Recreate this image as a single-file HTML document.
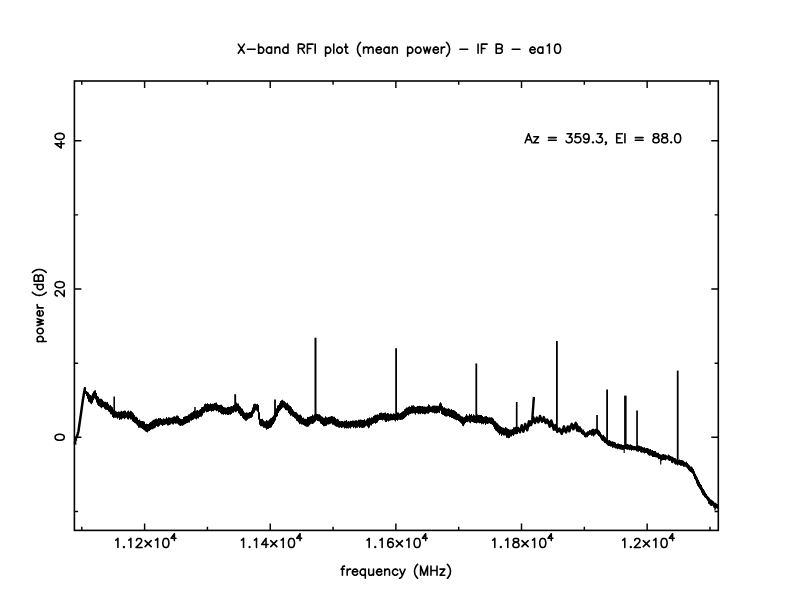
<!DOCTYPE html>
<html><head><meta charset="utf-8"><title>X-band RFI plot</title>
<style>html,body{margin:0;padding:0;background:#fff;font-family:"Liberation Sans",sans-serif;}svg{display:block}</style></head>
<body>
<svg width="792" height="612" viewBox="0 0 792 612">
<rect x="0" y="0" width="792" height="612" fill="#fff"/>
<g fill="none" stroke="#000" stroke-width="1.60" stroke-linecap="square">
<rect x="74.40" y="81.00" width="643.90" height="449.40"/>
</g>
<path d="M81.78 530.40 V526.70 M81.78 81.00 V84.70 M144.60 530.40 V523.40 M144.60 81.00 V88.00 M207.42 530.40 V526.70 M207.42 81.00 V84.70 M270.24 530.40 V523.40 M270.24 81.00 V88.00 M333.06 530.40 V526.70 M333.06 81.00 V84.70 M395.87 530.40 V523.40 M395.87 81.00 V88.00 M458.69 530.40 V526.70 M458.69 81.00 V84.70 M521.51 530.40 V523.40 M521.51 81.00 V88.00 M584.33 530.40 V526.70 M584.33 81.00 V84.70 M647.15 530.40 V523.40 M647.15 81.00 V88.00 M709.97 530.40 V526.70 M709.97 81.00 V84.70 M74.40 511.45 H78.10 M718.30 511.45 H714.60 M74.40 437.30 H81.40 M718.30 437.30 H711.30 M74.40 363.15 H78.10 M718.30 363.15 H714.60 M74.40 289.00 H81.40 M718.30 289.00 H711.30 M74.40 214.85 H78.10 M718.30 214.85 H714.60 M74.40 140.70 H81.40 M718.30 140.70 H711.30" fill="none" stroke="#000" stroke-width="1.45" stroke-linecap="butt"/>
<path d="M238.30 44.13 L244.34 53.20 M244.34 44.13 L238.30 53.20 M247.37 49.31 L255.14 49.31 M258.60 44.13 L258.60 53.20 M258.60 48.45 L259.46 47.58 L260.33 47.15 L261.62 47.15 L262.49 47.58 L263.35 48.45 L263.78 49.74 L263.78 50.61 L263.35 51.90 L262.49 52.77 L261.62 53.20 L260.33 53.20 L259.46 52.77 L258.60 51.90 M271.56 47.15 L271.56 53.20 M271.56 48.45 L270.70 47.58 L269.83 47.15 L268.54 47.15 L267.67 47.58 L266.81 48.45 L266.38 49.74 L266.38 50.61 L266.81 51.90 L267.67 52.77 L268.54 53.20 L269.83 53.20 L270.70 52.77 L271.56 51.90 M275.02 47.15 L275.02 53.20 M275.02 48.88 L276.31 47.58 L277.18 47.15 L278.47 47.15 L279.34 47.58 L279.77 48.88 L279.77 53.20 M287.98 44.13 L287.98 53.20 M287.98 48.45 L287.11 47.58 L286.25 47.15 L284.95 47.15 L284.09 47.58 L283.22 48.45 L282.79 49.74 L282.79 50.61 L283.22 51.90 L284.09 52.77 L284.95 53.20 L286.25 53.20 L287.11 52.77 L287.98 51.90 M298.34 44.13 L298.34 53.20 M298.34 44.13 L302.23 44.13 L303.53 44.56 L303.96 44.99 L304.39 45.86 L304.39 46.72 L303.96 47.58 L303.53 48.02 L302.23 48.45 L298.34 48.45 M301.37 48.45 L304.39 53.20 M307.42 44.13 L307.42 53.20 M307.42 44.13 L313.03 44.13 M307.42 48.45 L310.87 48.45 M315.19 44.13 L315.19 53.20 M325.56 47.15 L325.56 56.22 M325.56 48.45 L326.42 47.58 L327.29 47.15 L328.58 47.15 L329.45 47.58 L330.31 48.45 L330.74 49.74 L330.74 50.61 L330.31 51.90 L329.45 52.77 L328.58 53.20 L327.29 53.20 L326.42 52.77 L325.56 51.90 M333.77 44.13 L333.77 53.20 M338.95 47.15 L338.09 47.58 L337.22 48.45 L336.79 49.74 L336.79 50.61 L337.22 51.90 L338.09 52.77 L338.95 53.20 L340.25 53.20 L341.11 52.77 L341.98 51.90 L342.41 50.61 L342.41 49.74 L341.98 48.45 L341.11 47.58 L340.25 47.15 L338.95 47.15 M345.86 44.13 L345.86 51.47 L346.30 52.77 L347.16 53.20 L348.02 53.20 M344.57 47.15 L347.59 47.15 M360.55 42.40 L359.69 43.26 L358.82 44.56 L357.96 46.29 L357.53 48.45 L357.53 50.18 L357.96 52.34 L358.82 54.06 L359.69 55.36 L360.55 56.22 M363.58 47.15 L363.58 53.20 M363.58 48.88 L364.87 47.58 L365.74 47.15 L367.03 47.15 L367.90 47.58 L368.33 48.88 L368.33 53.20 M368.33 48.88 L369.62 47.58 L370.49 47.15 L371.78 47.15 L372.65 47.58 L373.08 48.88 L373.08 53.20 M376.10 49.74 L381.29 49.74 L381.29 48.88 L380.86 48.02 L380.42 47.58 L379.56 47.15 L378.26 47.15 L377.40 47.58 L376.54 48.45 L376.10 49.74 L376.10 50.61 L376.54 51.90 L377.40 52.77 L378.26 53.20 L379.56 53.20 L380.42 52.77 L381.29 51.90 M389.06 47.15 L389.06 53.20 M389.06 48.45 L388.20 47.58 L387.34 47.15 L386.04 47.15 L385.18 47.58 L384.31 48.45 L383.88 49.74 L383.88 50.61 L384.31 51.90 L385.18 52.77 L386.04 53.20 L387.34 53.20 L388.20 52.77 L389.06 51.90 M392.52 47.15 L392.52 53.20 M392.52 48.88 L393.82 47.58 L394.68 47.15 L395.98 47.15 L396.84 47.58 L397.27 48.88 L397.27 53.20 M407.64 47.15 L407.64 56.22 M407.64 48.45 L408.50 47.58 L409.37 47.15 L410.66 47.15 L411.53 47.58 L412.39 48.45 L412.82 49.74 L412.82 50.61 L412.39 51.90 L411.53 52.77 L410.66 53.20 L409.37 53.20 L408.50 52.77 L407.64 51.90 M417.58 47.15 L416.71 47.58 L415.85 48.45 L415.42 49.74 L415.42 50.61 L415.85 51.90 L416.71 52.77 L417.58 53.20 L418.87 53.20 L419.74 52.77 L420.60 51.90 L421.03 50.61 L421.03 49.74 L420.60 48.45 L419.74 47.58 L418.87 47.15 L417.58 47.15 M423.62 47.15 L425.35 53.20 M427.08 47.15 L425.35 53.20 M427.08 47.15 L428.81 53.20 M430.54 47.15 L428.81 53.20 M433.13 49.74 L438.31 49.74 L438.31 48.88 L437.88 48.02 L437.45 47.58 L436.58 47.15 L435.29 47.15 L434.42 47.58 L433.56 48.45 L433.13 49.74 L433.13 50.61 L433.56 51.90 L434.42 52.77 L435.29 53.20 L436.58 53.20 L437.45 52.77 L438.31 51.90 M441.34 47.15 L441.34 53.20 M441.34 49.74 L441.77 48.45 L442.63 47.58 L443.50 47.15 L444.79 47.15 M446.52 42.40 L447.38 43.26 L448.25 44.56 L449.11 46.29 L449.54 48.45 L449.54 50.18 L449.11 52.34 L448.25 54.06 L447.38 55.36 L446.52 56.22 M459.91 49.31 L467.69 49.31 M478.06 44.13 L478.06 53.20 M481.51 44.13 L481.51 53.20 M481.51 44.13 L487.13 44.13 M481.51 48.45 L484.97 48.45 M496.20 44.13 L496.20 53.20 M496.20 44.13 L500.09 44.13 L501.38 44.56 L501.82 44.99 L502.25 45.86 L502.25 46.72 L501.82 47.58 L501.38 48.02 L500.09 48.45 M496.20 48.45 L500.09 48.45 L501.38 48.88 L501.82 49.31 L502.25 50.18 L502.25 51.47 L501.82 52.34 L501.38 52.77 L500.09 53.20 L496.20 53.20 M512.18 49.31 L519.96 49.31 M529.90 49.74 L535.08 49.74 L535.08 48.88 L534.65 48.02 L534.22 47.58 L533.35 47.15 L532.06 47.15 L531.19 47.58 L530.33 48.45 L529.90 49.74 L529.90 50.61 L530.33 51.90 L531.19 52.77 L532.06 53.20 L533.35 53.20 L534.22 52.77 L535.08 51.90 M542.86 47.15 L542.86 53.20 M542.86 48.45 L541.99 47.58 L541.13 47.15 L539.83 47.15 L538.97 47.58 L538.10 48.45 L537.67 49.74 L537.67 50.61 L538.10 51.90 L538.97 52.77 L539.83 53.20 L541.13 53.20 L541.99 52.77 L542.86 51.90 M547.18 45.86 L548.04 45.42 L549.34 44.13 L549.34 53.20 M557.11 44.13 L555.82 44.56 L554.95 45.86 L554.52 48.02 L554.52 49.31 L554.95 51.47 L555.82 52.77 L557.11 53.20 L557.98 53.20 L559.27 52.77 L560.14 51.47 L560.57 49.31 L560.57 48.02 L560.14 45.86 L559.27 44.56 L557.98 44.13 L557.11 44.13 M528.59 133.73 L525.13 142.80 M528.59 133.73 L532.04 142.80 M526.43 139.78 L530.75 139.78 M538.52 136.75 L533.77 142.80 M533.77 136.75 L538.52 136.75 M533.77 142.80 L538.52 142.80 M548.46 137.62 L556.24 137.62 M548.46 140.21 L556.24 140.21 M567.04 133.73 L571.79 133.73 L569.20 137.18 L570.49 137.18 L571.36 137.62 L571.79 138.05 L572.22 139.34 L572.22 140.21 L571.79 141.50 L570.92 142.37 L569.63 142.80 L568.33 142.80 L567.04 142.37 L566.60 141.94 L566.17 141.07 M580.00 133.73 L575.68 133.73 L575.24 137.62 L575.68 137.18 L576.97 136.75 L578.27 136.75 L579.56 137.18 L580.43 138.05 L580.86 139.34 L580.86 140.21 L580.43 141.50 L579.56 142.37 L578.27 142.80 L576.97 142.80 L575.68 142.37 L575.24 141.94 L574.81 141.07 M589.07 136.75 L588.64 138.05 L587.77 138.91 L586.48 139.34 L586.04 139.34 L584.75 138.91 L583.88 138.05 L583.45 136.75 L583.45 136.32 L583.88 135.02 L584.75 134.16 L586.04 133.73 L586.48 133.73 L587.77 134.16 L588.64 135.02 L589.07 136.75 L589.07 138.91 L588.64 141.07 L587.77 142.37 L586.48 142.80 L585.61 142.80 L584.32 142.37 L583.88 141.50 M592.96 141.94 L592.52 142.37 L592.96 142.80 L593.39 142.37 L592.96 141.94 M597.28 133.73 L602.03 133.73 L599.44 137.18 L600.73 137.18 L601.60 137.62 L602.03 138.05 L602.46 139.34 L602.46 140.21 L602.03 141.50 L601.16 142.37 L599.87 142.80 L598.57 142.80 L597.28 142.37 L596.84 141.94 L596.41 141.07 M606.35 142.37 L605.92 142.80 L605.48 142.37 L605.92 141.94 L606.35 142.37 L606.35 143.23 L605.92 144.10 L605.48 144.53 M616.72 133.73 L616.72 142.80 M616.72 133.73 L622.33 133.73 M616.72 138.05 L620.17 138.05 M616.72 142.80 L622.33 142.80 M624.92 133.73 L624.92 142.80 M635.29 137.62 L643.07 137.62 M635.29 140.21 L643.07 140.21 M655.16 133.73 L653.87 134.16 L653.44 135.02 L653.44 135.89 L653.87 136.75 L654.73 137.18 L656.46 137.62 L657.76 138.05 L658.62 138.91 L659.05 139.78 L659.05 141.07 L658.62 141.94 L658.19 142.37 L656.89 142.80 L655.16 142.80 L653.87 142.37 L653.44 141.94 L653.00 141.07 L653.00 139.78 L653.44 138.91 L654.30 138.05 L655.60 137.62 L657.32 137.18 L658.19 136.75 L658.62 135.89 L658.62 135.02 L658.19 134.16 L656.89 133.73 L655.16 133.73 M663.80 133.73 L662.51 134.16 L662.08 135.02 L662.08 135.89 L662.51 136.75 L663.37 137.18 L665.10 137.62 L666.40 138.05 L667.26 138.91 L667.69 139.78 L667.69 141.07 L667.26 141.94 L666.83 142.37 L665.53 142.80 L663.80 142.80 L662.51 142.37 L662.08 141.94 L661.64 141.07 L661.64 139.78 L662.08 138.91 L662.94 138.05 L664.24 137.62 L665.96 137.18 L666.83 136.75 L667.26 135.89 L667.26 135.02 L666.83 134.16 L665.53 133.73 L663.80 133.73 M671.15 141.94 L670.72 142.37 L671.15 142.80 L671.58 142.37 L671.15 141.94 M677.20 133.73 L675.90 134.16 L675.04 135.46 L674.60 137.62 L674.60 138.91 L675.04 141.07 L675.90 142.37 L677.20 142.80 L678.06 142.80 L679.36 142.37 L680.22 141.07 L680.65 138.91 L680.65 137.62 L680.22 135.46 L679.36 134.16 L678.06 133.73 L677.20 133.73 M344.58 566.13 L343.71 566.13 L342.85 566.56 L342.42 567.86 L342.42 575.20 M341.12 569.15 L344.14 569.15 M347.17 569.15 L347.17 575.20 M347.17 571.74 L347.60 570.45 L348.46 569.58 L349.33 569.15 L350.62 569.15 M352.35 571.74 L357.54 571.74 L357.54 570.88 L357.10 570.02 L356.67 569.58 L355.81 569.15 L354.51 569.15 L353.65 569.58 L352.78 570.45 L352.35 571.74 L352.35 572.61 L352.78 573.90 L353.65 574.77 L354.51 575.20 L355.81 575.20 L356.67 574.77 L357.54 573.90 M365.31 569.15 L365.31 578.22 M365.31 570.45 L364.45 569.58 L363.58 569.15 L362.29 569.15 L361.42 569.58 L360.56 570.45 L360.13 571.74 L360.13 572.61 L360.56 573.90 L361.42 574.77 L362.29 575.20 L363.58 575.20 L364.45 574.77 L365.31 573.90 M368.77 569.15 L368.77 573.47 L369.20 574.77 L370.06 575.20 L371.36 575.20 L372.22 574.77 L373.52 573.47 M373.52 569.15 L373.52 575.20 M376.54 571.74 L381.73 571.74 L381.73 570.88 L381.30 570.02 L380.86 569.58 L380.00 569.15 L378.70 569.15 L377.84 569.58 L376.98 570.45 L376.54 571.74 L376.54 572.61 L376.98 573.90 L377.84 574.77 L378.70 575.20 L380.00 575.20 L380.86 574.77 L381.73 573.90 M384.75 569.15 L384.75 575.20 M384.75 570.88 L386.05 569.58 L386.91 569.15 L388.21 569.15 L389.07 569.58 L389.50 570.88 L389.50 575.20 M397.71 570.45 L396.85 569.58 L395.98 569.15 L394.69 569.15 L393.82 569.58 L392.96 570.45 L392.53 571.74 L392.53 572.61 L392.96 573.90 L393.82 574.77 L394.69 575.20 L395.98 575.20 L396.85 574.77 L397.71 573.90 M399.87 569.15 L402.46 575.20 M405.06 569.15 L402.46 575.20 L401.60 576.93 L400.74 577.79 L399.87 578.22 L399.44 578.22 M417.58 564.40 L416.72 565.26 L415.86 566.56 L414.99 568.29 L414.56 570.45 L414.56 572.18 L414.99 574.34 L415.86 576.06 L416.72 577.36 L417.58 578.22 M420.61 566.13 L420.61 575.20 M420.61 566.13 L424.06 575.20 M427.52 566.13 L424.06 575.20 M427.52 566.13 L427.52 575.20 M430.98 566.13 L430.98 575.20 M437.02 566.13 L437.02 575.20 M430.98 570.45 L437.02 570.45 M444.80 569.15 L440.05 575.20 M440.05 569.15 L444.80 569.15 M440.05 575.20 L444.80 575.20 M447.39 564.40 L448.26 565.26 L449.12 566.56 L449.98 568.29 L450.42 570.45 L450.42 572.18 L449.98 574.34 L449.12 576.06 L448.26 577.36 L447.39 578.22 M37.15 341.57 L46.22 341.57 M38.45 341.57 L37.58 340.71 L37.15 339.84 L37.15 338.55 L37.58 337.68 L38.45 336.82 L39.74 336.39 L40.61 336.39 L41.90 336.82 L42.77 337.68 L43.20 338.55 L43.20 339.84 L42.77 340.71 L41.90 341.57 M37.15 331.64 L37.58 332.50 L38.45 333.36 L39.74 333.80 L40.61 333.80 L41.90 333.36 L42.77 332.50 L43.20 331.64 L43.20 330.34 L42.77 329.48 L41.90 328.61 L40.61 328.18 L39.74 328.18 L38.45 328.61 L37.58 329.48 L37.15 330.34 L37.15 331.64 M37.15 325.59 L43.20 323.86 M37.15 322.13 L43.20 323.86 M37.15 322.13 L43.20 320.40 M37.15 318.68 L43.20 320.40 M39.74 316.08 L39.74 310.90 L38.88 310.90 L38.02 311.33 L37.58 311.76 L37.15 312.63 L37.15 313.92 L37.58 314.79 L38.45 315.65 L39.74 316.08 L40.61 316.08 L41.90 315.65 L42.77 314.79 L43.20 313.92 L43.20 312.63 L42.77 311.76 L41.90 310.90 M37.15 307.88 L43.20 307.88 M39.74 307.88 L38.45 307.44 L37.58 306.58 L37.15 305.72 L37.15 304.42 M32.40 292.32 L33.26 293.19 L34.56 294.05 L36.29 294.92 L38.45 295.35 L40.18 295.35 L42.34 294.92 L44.06 294.05 L45.36 293.19 L46.22 292.32 M34.13 284.55 L43.20 284.55 M38.45 284.55 L37.58 285.41 L37.15 286.28 L37.15 287.57 L37.58 288.44 L38.45 289.30 L39.74 289.73 L40.61 289.73 L41.90 289.30 L42.77 288.44 L43.20 287.57 L43.20 286.28 L42.77 285.41 L41.90 284.55 M34.13 281.09 L43.20 281.09 M34.13 281.09 L34.13 277.20 L34.56 275.91 L34.99 275.48 L35.86 275.04 L36.72 275.04 L37.58 275.48 L38.02 275.91 L38.45 277.20 M38.45 281.09 L38.45 277.20 L38.88 275.91 L39.31 275.48 L40.18 275.04 L41.47 275.04 L42.34 275.48 L42.77 275.91 L43.20 277.20 L43.20 281.09 M32.40 272.45 L33.26 271.59 L34.56 270.72 L36.29 269.86 L38.45 269.43 L40.18 269.43 L42.34 269.86 L44.06 270.72 L45.36 271.59 L46.22 272.45 M115.74 540.16 L116.60 539.72 L117.90 538.43 L117.90 547.50 M123.95 546.64 L123.52 547.07 L123.95 547.50 L124.38 547.07 L123.95 546.64 M128.70 540.16 L129.56 539.72 L130.86 538.43 L130.86 547.50 M136.48 540.59 L136.48 540.16 L136.91 539.29 L137.34 538.86 L138.20 538.43 L139.93 538.43 L140.80 538.86 L141.23 539.29 L141.66 540.16 L141.66 541.02 L141.23 541.88 L140.36 543.18 L136.04 547.50 L142.09 547.50 M145.12 540.59 L151.16 546.64 M151.16 540.59 L145.12 546.64 M155.48 540.16 L156.35 539.72 L157.64 538.43 L157.64 547.50 M165.42 538.43 L164.12 538.86 L163.26 540.16 L162.83 542.32 L162.83 543.61 L163.26 545.77 L164.12 547.07 L165.42 547.50 L166.28 547.50 L167.58 547.07 L168.44 545.77 L168.88 543.61 L168.88 542.32 L168.44 540.16 L167.58 538.86 L166.28 538.43 L165.42 538.43 M174.38 533.78 L171.14 538.32 L176.00 538.32 M174.38 533.78 L174.38 540.59 M241.38 540.16 L242.24 539.72 L243.54 538.43 L243.54 547.50 M249.59 546.64 L249.15 547.07 L249.59 547.50 L250.02 547.07 L249.59 546.64 M254.34 540.16 L255.20 539.72 L256.50 538.43 L256.50 547.50 M266.00 538.43 L261.68 544.48 L268.16 544.48 M266.00 538.43 L266.00 547.50 M270.75 540.59 L276.80 546.64 M276.80 540.59 L270.75 546.64 M281.12 540.16 L281.99 539.72 L283.28 538.43 L283.28 547.50 M291.06 538.43 L289.76 538.86 L288.90 540.16 L288.47 542.32 L288.47 543.61 L288.90 545.77 L289.76 547.07 L291.06 547.50 L291.92 547.50 L293.22 547.07 L294.08 545.77 L294.51 543.61 L294.51 542.32 L294.08 540.16 L293.22 538.86 L291.92 538.43 L291.06 538.43 M300.02 533.78 L296.78 538.32 L301.64 538.32 M300.02 533.78 L300.02 540.59 M367.01 540.16 L367.88 539.72 L369.17 538.43 L369.17 547.50 M375.22 546.64 L374.79 547.07 L375.22 547.50 L375.65 547.07 L375.22 546.64 M379.97 540.16 L380.84 539.72 L382.13 538.43 L382.13 547.50 M392.93 539.72 L392.50 538.86 L391.21 538.43 L390.34 538.43 L389.05 538.86 L388.18 540.16 L387.75 542.32 L387.75 544.48 L388.18 546.20 L389.05 547.07 L390.34 547.50 L390.77 547.50 L392.07 547.07 L392.93 546.20 L393.37 544.91 L393.37 544.48 L392.93 543.18 L392.07 542.32 L390.77 541.88 L390.34 541.88 L389.05 542.32 L388.18 543.18 L387.75 544.48 M396.39 540.59 L402.44 546.64 M402.44 540.59 L396.39 546.64 M406.76 540.16 L407.62 539.72 L408.92 538.43 L408.92 547.50 M416.69 538.43 L415.40 538.86 L414.53 540.16 L414.10 542.32 L414.10 543.61 L414.53 545.77 L415.40 547.07 L416.69 547.50 L417.56 547.50 L418.85 547.07 L419.72 545.77 L420.15 543.61 L420.15 542.32 L419.72 540.16 L418.85 538.86 L417.56 538.43 L416.69 538.43 M425.66 533.78 L422.42 538.32 L427.28 538.32 M425.66 533.78 L425.66 540.59 M492.65 540.16 L493.52 539.72 L494.81 538.43 L494.81 547.50 M500.86 546.64 L500.43 547.07 L500.86 547.50 L501.29 547.07 L500.86 546.64 M505.61 540.16 L506.48 539.72 L507.77 538.43 L507.77 547.50 M515.12 538.43 L513.82 538.86 L513.39 539.72 L513.39 540.59 L513.82 541.45 L514.68 541.88 L516.41 542.32 L517.71 542.75 L518.57 543.61 L519.00 544.48 L519.00 545.77 L518.57 546.64 L518.14 547.07 L516.84 547.50 L515.12 547.50 L513.82 547.07 L513.39 546.64 L512.96 545.77 L512.96 544.48 L513.39 543.61 L514.25 542.75 L515.55 542.32 L517.28 541.88 L518.14 541.45 L518.57 540.59 L518.57 539.72 L518.14 538.86 L516.84 538.43 L515.12 538.43 M522.03 540.59 L528.08 546.64 M528.08 540.59 L522.03 546.64 M532.40 540.16 L533.26 539.72 L534.56 538.43 L534.56 547.50 M542.33 538.43 L541.04 538.86 L540.17 540.16 L539.74 542.32 L539.74 543.61 L540.17 545.77 L541.04 547.07 L542.33 547.50 L543.20 547.50 L544.49 547.07 L545.36 545.77 L545.79 543.61 L545.79 542.32 L545.36 540.16 L544.49 538.86 L543.20 538.43 L542.33 538.43 M551.30 533.78 L548.06 538.32 L552.92 538.32 M551.30 533.78 L551.30 540.59 M622.61 540.16 L623.47 539.72 L624.77 538.43 L624.77 547.50 M630.82 546.64 L630.39 547.07 L630.82 547.50 L631.25 547.07 L630.82 546.64 M634.71 540.59 L634.71 540.16 L635.14 539.29 L635.57 538.86 L636.43 538.43 L638.16 538.43 L639.03 538.86 L639.46 539.29 L639.89 540.16 L639.89 541.02 L639.46 541.88 L638.59 543.18 L634.27 547.50 L640.32 547.50 M643.35 540.59 L649.39 546.64 M649.39 540.59 L643.35 546.64 M653.71 540.16 L654.58 539.72 L655.87 538.43 L655.87 547.50 M663.65 538.43 L662.35 538.86 L661.49 540.16 L661.06 542.32 L661.06 543.61 L661.49 545.77 L662.35 547.07 L663.65 547.50 L664.51 547.50 L665.81 547.07 L666.67 545.77 L667.11 543.61 L667.11 542.32 L666.67 540.16 L665.81 538.86 L664.51 538.43 L663.65 538.43 M672.61 533.78 L669.37 538.32 L674.23 538.32 M672.61 533.78 L672.61 540.59 M55.13 143.72 L61.18 148.04 L61.18 141.56 M55.13 143.72 L64.20 143.72 M55.13 136.81 L55.56 138.11 L56.86 138.97 L59.02 139.40 L60.31 139.40 L62.47 138.97 L63.77 138.11 L64.20 136.81 L64.20 135.95 L63.77 134.65 L62.47 133.79 L60.31 133.36 L59.02 133.36 L56.86 133.79 L55.56 134.65 L55.13 135.95 L55.13 136.81 M57.29 295.91 L56.86 295.91 L55.99 295.48 L55.56 295.05 L55.13 294.18 L55.13 292.46 L55.56 291.59 L55.99 291.16 L56.86 290.73 L57.72 290.73 L58.58 291.16 L59.88 292.02 L64.20 296.34 L64.20 290.30 M55.13 285.11 L55.56 286.41 L56.86 287.27 L59.02 287.70 L60.31 287.70 L62.47 287.27 L63.77 286.41 L64.20 285.11 L64.20 284.25 L63.77 282.95 L62.47 282.09 L60.31 281.66 L59.02 281.66 L56.86 282.09 L55.56 282.95 L55.13 284.25 L55.13 285.11 M55.13 437.73 L55.56 439.03 L56.86 439.89 L59.02 440.32 L60.31 440.32 L62.47 439.89 L63.77 439.03 L64.20 437.73 L64.20 436.87 L63.77 435.57 L62.47 434.71 L60.31 434.28 L59.02 434.28 L56.86 434.71 L55.56 435.57 L55.13 436.87 L55.13 437.73" fill="none" stroke="#000" stroke-width="1.58" stroke-linecap="round" stroke-linejoin="round"/>
<path fill="#000" stroke="none" d="M84.00 387.64 H85.00 V395.65 H84.00 Z M85.00 387.79 H86.00 V394.05 H85.00 Z M86.00 391.03 H87.00 V395.98 H86.00 Z M87.00 391.66 H88.00 V398.74 H87.00 Z M88.00 392.48 H89.00 V401.66 H88.00 Z M89.00 394.35 H90.00 V402.20 H89.00 Z M90.00 395.10 H91.00 V403.54 H90.00 Z M91.00 395.43 H92.00 V404.32 H91.00 Z M92.00 393.19 H93.00 V402.67 H92.00 Z M93.00 391.41 H94.00 V400.29 H93.00 Z M94.00 390.50 H95.00 V398.56 H94.00 Z M95.00 390.35 H96.00 V399.57 H95.00 Z M96.00 392.90 H97.00 V402.49 H96.00 Z M97.00 395.88 H98.00 V404.77 H97.00 Z M98.00 396.86 H99.00 V406.03 H98.00 Z M99.00 398.87 H100.00 V406.54 H99.00 Z M100.00 398.65 H101.00 V407.36 H100.00 Z M101.00 398.87 H102.00 V408.19 H101.00 Z M102.00 399.81 H103.00 V407.27 H102.00 Z M103.00 401.29 H104.00 V407.31 H103.00 Z M104.00 401.76 H105.00 V408.86 H104.00 Z M105.00 401.63 H106.00 V409.74 H105.00 Z M106.00 402.32 H107.00 V409.79 H106.00 Z M107.00 401.94 H108.00 V410.07 H107.00 Z M108.00 403.82 H109.00 V411.40 H108.00 Z M109.00 405.45 H110.00 V412.35 H109.00 Z M110.00 404.94 H111.00 V414.18 H110.00 Z M111.00 406.35 H112.00 V414.57 H111.00 Z M112.00 407.37 H113.00 V416.94 H112.00 Z M113.00 409.58 H114.00 V418.19 H113.00 Z M114.00 411.02 H115.00 V417.80 H114.00 Z M115.00 410.63 H116.00 V417.81 H115.00 Z M116.00 411.54 H117.00 V417.70 H116.00 Z M117.00 411.94 H118.00 V418.79 H117.00 Z M118.00 411.51 H119.00 V417.87 H118.00 Z M119.00 411.85 H120.00 V420.05 H119.00 Z M120.00 411.57 H121.00 V419.27 H120.00 Z M121.00 410.78 H122.00 V419.56 H121.00 Z M122.00 411.61 H123.00 V418.40 H122.00 Z M123.00 411.10 H124.00 V418.32 H123.00 Z M124.00 410.58 H125.00 V419.19 H124.00 Z M125.00 410.83 H126.00 V418.34 H125.00 Z M126.00 412.14 H127.00 V417.73 H126.00 Z M127.00 411.35 H128.00 V419.15 H127.00 Z M128.00 410.58 H129.00 V419.56 H128.00 Z M129.00 411.67 H130.00 V418.34 H129.00 Z M130.00 410.81 H131.00 V419.49 H130.00 Z M131.00 411.16 H132.00 V419.45 H131.00 Z M132.00 412.21 H133.00 V421.34 H132.00 Z M133.00 413.26 H134.00 V421.92 H133.00 Z M134.00 415.00 H135.00 V422.95 H134.00 Z M135.00 416.65 H136.00 V423.51 H135.00 Z M136.00 416.77 H137.00 V424.45 H136.00 Z M137.00 417.80 H138.00 V425.83 H137.00 Z M138.00 419.97 H139.00 V427.69 H138.00 Z M139.00 419.38 H140.00 V427.68 H139.00 Z M140.00 420.84 H141.00 V427.77 H140.00 Z M141.00 421.03 H142.00 V428.22 H141.00 Z M142.00 420.93 H143.00 V428.93 H142.00 Z M143.00 421.32 H144.00 V429.66 H143.00 Z M144.00 421.81 H145.00 V430.47 H144.00 Z M145.00 423.97 H146.00 V431.60 H145.00 Z M146.00 423.77 H147.00 V431.93 H146.00 Z M147.00 424.09 H148.00 V432.39 H147.00 Z M148.00 423.94 H149.00 V431.14 H148.00 Z M149.00 422.85 H150.00 V431.04 H149.00 Z M150.00 421.94 H151.00 V430.07 H150.00 Z M151.00 421.45 H152.00 V429.33 H151.00 Z M152.00 420.38 H153.00 V429.22 H152.00 Z M153.00 419.81 H154.00 V428.80 H153.00 Z M154.00 419.48 H155.00 V428.17 H154.00 Z M155.00 418.74 H156.00 V427.52 H155.00 Z M156.00 418.60 H157.00 V426.00 H156.00 Z M157.00 419.20 H158.00 V426.82 H157.00 Z M158.00 417.89 H159.00 V426.73 H158.00 Z M159.00 418.20 H160.00 V425.70 H159.00 Z M160.00 417.91 H161.00 V424.70 H160.00 Z M161.00 419.01 H162.00 V424.93 H161.00 Z M162.00 419.21 H163.00 V426.09 H162.00 Z M163.00 418.20 H164.00 V425.13 H163.00 Z M164.00 418.75 H165.00 V425.07 H164.00 Z M165.00 418.64 H166.00 V424.52 H165.00 Z M166.00 416.91 H167.00 V424.20 H166.00 Z M167.00 418.16 H168.00 V425.54 H167.00 Z M168.00 417.35 H169.00 V425.60 H168.00 Z M169.00 417.52 H170.00 V424.93 H169.00 Z M170.00 417.78 H171.00 V424.53 H170.00 Z M171.00 417.65 H172.00 V423.42 H171.00 Z M172.00 417.20 H173.00 V424.17 H172.00 Z M173.00 416.59 H174.00 V424.43 H173.00 Z M174.00 416.14 H175.00 V423.17 H174.00 Z M175.00 416.63 H176.00 V423.73 H175.00 Z M176.00 415.57 H177.00 V423.47 H176.00 Z M177.00 415.46 H178.00 V423.69 H177.00 Z M178.00 416.36 H179.00 V424.65 H178.00 Z M179.00 417.94 H180.00 V425.40 H179.00 Z M180.00 418.72 H181.00 V426.12 H180.00 Z M181.00 418.94 H182.00 V425.62 H181.00 Z M182.00 418.93 H183.00 V425.69 H182.00 Z M183.00 416.94 H184.00 V425.27 H183.00 Z M184.00 416.42 H185.00 V424.38 H184.00 Z M185.00 416.15 H186.00 V423.97 H185.00 Z M186.00 415.99 H187.00 V423.21 H186.00 Z M187.00 415.63 H188.00 V422.88 H187.00 Z M188.00 414.39 H189.00 V422.58 H188.00 Z M189.00 414.22 H190.00 V422.57 H189.00 Z M190.00 413.22 H191.00 V420.54 H190.00 Z M191.00 412.55 H192.00 V420.74 H191.00 Z M192.00 412.14 H193.00 V420.01 H192.00 Z M193.00 411.10 H194.00 V419.54 H193.00 Z M194.00 410.18 H195.00 V418.39 H194.00 Z M195.00 411.30 H196.00 V418.71 H195.00 Z M196.00 410.56 H197.00 V419.42 H196.00 Z M197.00 409.95 H198.00 V418.19 H197.00 Z M198.00 410.79 H199.00 V418.61 H198.00 Z M199.00 409.71 H200.00 V417.08 H199.00 Z M200.00 408.96 H201.00 V416.76 H200.00 Z M201.00 407.35 H202.00 V416.71 H201.00 Z M202.00 406.93 H203.00 V415.53 H202.00 Z M203.00 406.39 H204.00 V413.15 H203.00 Z M204.00 404.21 H205.00 V412.68 H204.00 Z M205.00 403.60 H206.00 V411.34 H205.00 Z M206.00 404.09 H207.00 V412.18 H206.00 Z M207.00 403.15 H208.00 V411.93 H207.00 Z M208.00 403.94 H209.00 V411.81 H208.00 Z M209.00 404.29 H210.00 V411.04 H209.00 Z M210.00 403.21 H211.00 V410.78 H210.00 Z M211.00 403.92 H212.00 V411.74 H211.00 Z M212.00 403.68 H213.00 V410.89 H212.00 Z M213.00 403.86 H214.00 V411.33 H213.00 Z M214.00 403.05 H215.00 V410.19 H214.00 Z M215.00 402.70 H216.00 V410.34 H215.00 Z M216.00 402.61 H217.00 V411.23 H216.00 Z M217.00 404.18 H218.00 V410.82 H217.00 Z M218.00 404.90 H219.00 V412.52 H218.00 Z M219.00 404.99 H220.00 V411.99 H219.00 Z M220.00 404.63 H221.00 V413.19 H220.00 Z M221.00 404.69 H222.00 V414.25 H221.00 Z M222.00 405.82 H223.00 V414.24 H222.00 Z M223.00 407.09 H224.00 V414.78 H223.00 Z M224.00 407.19 H225.00 V414.07 H224.00 Z M225.00 407.60 H226.00 V414.73 H225.00 Z M226.00 407.73 H227.00 V414.30 H226.00 Z M227.00 407.11 H228.00 V414.99 H227.00 Z M228.00 406.69 H229.00 V415.10 H228.00 Z M229.00 407.02 H230.00 V414.52 H229.00 Z M230.00 406.41 H231.00 V414.84 H230.00 Z M231.00 406.09 H232.00 V413.89 H231.00 Z M232.00 406.20 H233.00 V412.76 H232.00 Z M233.00 405.05 H234.00 V412.63 H233.00 Z M234.00 404.71 H235.00 V411.52 H234.00 Z M235.00 403.01 H236.00 V412.20 H235.00 Z M236.00 402.52 H237.00 V411.71 H236.00 Z M237.00 403.57 H238.00 V410.99 H237.00 Z M238.00 403.39 H239.00 V413.33 H238.00 Z M239.00 405.86 H240.00 V414.35 H239.00 Z M240.00 406.71 H241.00 V415.98 H240.00 Z M241.00 408.37 H242.00 V416.05 H241.00 Z M242.00 408.87 H243.00 V417.79 H242.00 Z M243.00 410.85 H244.00 V419.00 H243.00 Z M244.00 412.46 H245.00 V419.87 H244.00 Z M245.00 412.80 H246.00 V420.73 H245.00 Z M246.00 412.23 H247.00 V420.79 H246.00 Z M247.00 412.84 H248.00 V419.74 H247.00 Z M248.00 412.63 H249.00 V418.77 H248.00 Z M249.00 412.10 H250.00 V418.62 H249.00 Z M250.00 412.01 H251.00 V417.91 H250.00 Z M251.00 410.38 H252.00 V417.72 H251.00 Z M252.00 407.38 H253.00 V416.86 H252.00 Z M253.00 404.13 H254.00 V413.83 H253.00 Z M254.00 403.68 H255.00 V412.39 H254.00 Z M255.00 403.80 H256.00 V410.62 H255.00 Z M256.00 404.16 H257.00 V410.47 H256.00 Z M257.00 403.76 H258.00 V411.83 H257.00 Z M258.00 404.96 H259.00 V419.51 H258.00 Z M259.00 412.37 H260.00 V424.82 H259.00 Z M260.00 419.07 H261.00 V426.13 H260.00 Z M261.00 418.88 H262.00 V426.14 H261.00 Z M262.00 418.77 H263.00 V426.53 H262.00 Z M263.00 420.26 H264.00 V427.84 H263.00 Z M264.00 421.22 H265.00 V427.75 H264.00 Z M265.00 421.37 H266.00 V428.32 H265.00 Z M266.00 420.08 H267.00 V429.71 H266.00 Z M267.00 420.68 H268.00 V428.98 H267.00 Z M268.00 420.44 H269.00 V428.64 H268.00 Z M269.00 419.24 H270.00 V428.01 H269.00 Z M270.00 418.19 H271.00 V427.63 H270.00 Z M271.00 417.75 H272.00 V427.21 H271.00 Z M272.00 416.73 H273.00 V425.26 H272.00 Z M273.00 415.42 H274.00 V424.04 H273.00 Z M274.00 412.61 H275.00 V422.22 H274.00 Z M275.00 410.41 H276.00 V420.59 H275.00 Z M276.00 408.18 H277.00 V417.27 H276.00 Z M277.00 405.52 H278.00 V416.22 H277.00 Z M278.00 405.11 H279.00 V413.03 H278.00 Z M279.00 403.21 H280.00 V411.14 H279.00 Z M280.00 401.07 H281.00 V410.33 H280.00 Z M281.00 400.21 H282.00 V409.07 H281.00 Z M282.00 399.87 H283.00 V407.83 H282.00 Z M283.00 400.68 H284.00 V407.53 H283.00 Z M284.00 401.33 H285.00 V408.39 H284.00 Z M285.00 402.21 H286.00 V409.88 H285.00 Z M286.00 403.21 H287.00 V410.34 H286.00 Z M287.00 402.69 H288.00 V410.47 H287.00 Z M288.00 404.55 H289.00 V412.95 H288.00 Z M289.00 405.60 H290.00 V414.31 H289.00 Z M290.00 406.01 H291.00 V415.65 H290.00 Z M291.00 407.20 H292.00 V415.57 H291.00 Z M292.00 409.08 H293.00 V416.41 H292.00 Z M293.00 410.44 H294.00 V417.02 H293.00 Z M294.00 411.67 H295.00 V418.32 H294.00 Z M295.00 411.98 H296.00 V418.86 H295.00 Z M296.00 412.19 H297.00 V420.64 H296.00 Z M297.00 413.58 H298.00 V421.16 H297.00 Z M298.00 414.78 H299.00 V422.42 H298.00 Z M299.00 414.78 H300.00 V424.16 H299.00 Z M300.00 414.58 H301.00 V423.75 H300.00 Z M301.00 415.87 H302.00 V424.42 H301.00 Z M302.00 417.84 H303.00 V424.40 H302.00 Z M303.00 417.59 H304.00 V424.98 H303.00 Z M304.00 418.68 H305.00 V425.71 H304.00 Z M305.00 418.73 H306.00 V426.33 H305.00 Z M306.00 418.94 H307.00 V426.72 H306.00 Z M307.00 417.03 H308.00 V426.82 H307.00 Z M308.00 417.12 H309.00 V426.47 H308.00 Z M309.00 416.82 H310.00 V425.14 H309.00 Z M310.00 416.13 H311.00 V424.14 H310.00 Z M311.00 415.98 H312.00 V423.67 H311.00 Z M312.00 414.40 H313.00 V423.94 H312.00 Z M313.00 415.49 H314.00 V423.53 H313.00 Z M314.00 414.49 H315.00 V422.61 H314.00 Z M315.00 413.90 H316.00 V421.56 H315.00 Z M316.00 413.87 H317.00 V420.30 H316.00 Z M317.00 414.05 H318.00 V421.11 H317.00 Z M318.00 414.16 H319.00 V421.16 H318.00 Z M319.00 414.37 H320.00 V421.61 H319.00 Z M320.00 415.21 H321.00 V423.52 H320.00 Z M321.00 416.37 H322.00 V423.90 H321.00 Z M322.00 416.78 H323.00 V424.98 H322.00 Z M323.00 417.70 H324.00 V426.14 H323.00 Z M324.00 417.75 H325.00 V426.33 H324.00 Z M325.00 416.35 H326.00 V426.05 H325.00 Z M326.00 417.36 H327.00 V425.63 H326.00 Z M327.00 417.41 H328.00 V424.52 H327.00 Z M328.00 416.93 H329.00 V424.40 H328.00 Z M329.00 416.67 H330.00 V424.34 H329.00 Z M330.00 416.48 H331.00 V423.78 H330.00 Z M331.00 415.89 H332.00 V423.55 H331.00 Z M332.00 416.33 H333.00 V424.81 H332.00 Z M333.00 416.78 H334.00 V424.74 H333.00 Z M334.00 416.69 H335.00 V425.45 H334.00 Z M335.00 418.03 H336.00 V426.35 H335.00 Z M336.00 419.17 H337.00 V426.86 H336.00 Z M337.00 418.83 H338.00 V426.85 H337.00 Z M338.00 419.59 H339.00 V427.46 H338.00 Z M339.00 421.08 H340.00 V427.87 H339.00 Z M340.00 421.36 H341.00 V427.31 H340.00 Z M341.00 420.93 H342.00 V427.98 H341.00 Z M342.00 420.99 H343.00 V427.39 H342.00 Z M343.00 421.57 H344.00 V427.14 H343.00 Z M344.00 420.64 H345.00 V428.45 H344.00 Z M345.00 420.75 H346.00 V427.91 H345.00 Z M346.00 420.12 H347.00 V428.42 H346.00 Z M347.00 421.50 H348.00 V428.22 H347.00 Z M348.00 421.10 H349.00 V428.59 H348.00 Z M349.00 421.56 H350.00 V427.67 H349.00 Z M350.00 420.78 H351.00 V428.42 H350.00 Z M351.00 421.10 H352.00 V427.26 H351.00 Z M352.00 420.43 H353.00 V426.80 H352.00 Z M353.00 420.63 H354.00 V427.91 H353.00 Z M354.00 420.67 H355.00 V427.31 H354.00 Z M355.00 420.21 H356.00 V428.16 H355.00 Z M356.00 420.29 H357.00 V427.66 H356.00 Z M357.00 420.77 H358.00 V427.83 H357.00 Z M358.00 419.80 H359.00 V426.75 H358.00 Z M359.00 419.71 H360.00 V428.01 H359.00 Z M360.00 419.40 H361.00 V427.27 H360.00 Z M361.00 419.65 H362.00 V427.64 H361.00 Z M362.00 419.94 H363.00 V427.92 H362.00 Z M363.00 420.01 H364.00 V427.73 H363.00 Z M364.00 419.30 H365.00 V427.42 H364.00 Z M365.00 420.38 H366.00 V426.35 H365.00 Z M366.00 419.55 H367.00 V425.82 H366.00 Z M367.00 418.34 H368.00 V426.82 H367.00 Z M368.00 418.24 H369.00 V428.21 H368.00 Z M369.00 417.55 H370.00 V427.51 H369.00 Z M370.00 418.33 H371.00 V425.21 H370.00 Z M371.00 417.23 H372.00 V425.49 H371.00 Z M372.00 417.41 H373.00 V423.88 H372.00 Z M373.00 416.12 H374.00 V423.54 H373.00 Z M374.00 415.16 H375.00 V422.93 H374.00 Z M375.00 414.83 H376.00 V423.84 H375.00 Z M376.00 414.73 H377.00 V422.88 H376.00 Z M377.00 414.32 H378.00 V422.49 H377.00 Z M378.00 414.64 H379.00 V420.81 H378.00 Z M379.00 413.11 H380.00 V420.11 H379.00 Z M380.00 412.77 H381.00 V420.01 H380.00 Z M381.00 412.40 H382.00 V419.91 H381.00 Z M382.00 413.31 H383.00 V420.44 H382.00 Z M383.00 412.97 H384.00 V419.69 H383.00 Z M384.00 412.73 H385.00 V420.55 H384.00 Z M385.00 412.42 H386.00 V421.88 H385.00 Z M386.00 413.69 H387.00 V421.90 H386.00 Z M387.00 413.10 H388.00 V420.84 H387.00 Z M388.00 413.25 H389.00 V421.54 H388.00 Z M389.00 414.16 H390.00 V420.76 H389.00 Z M390.00 413.62 H391.00 V420.49 H390.00 Z M391.00 413.64 H392.00 V420.23 H391.00 Z M392.00 414.17 H393.00 V420.19 H392.00 Z M393.00 413.19 H394.00 V420.04 H393.00 Z M394.00 413.72 H395.00 V420.56 H394.00 Z M395.00 414.04 H396.00 V421.43 H395.00 Z M396.00 412.68 H397.00 V420.08 H396.00 Z M397.00 412.47 H398.00 V420.68 H397.00 Z M398.00 412.58 H399.00 V419.67 H398.00 Z M399.00 413.58 H400.00 V419.78 H399.00 Z M400.00 412.96 H401.00 V420.12 H400.00 Z M401.00 412.33 H402.00 V419.73 H401.00 Z M402.00 411.56 H403.00 V419.64 H402.00 Z M403.00 411.00 H404.00 V418.99 H403.00 Z M404.00 409.32 H405.00 V418.34 H404.00 Z M405.00 408.56 H406.00 V417.19 H405.00 Z M406.00 407.43 H407.00 V416.18 H406.00 Z M407.00 407.52 H408.00 V415.10 H407.00 Z M408.00 406.84 H409.00 V415.41 H408.00 Z M409.00 406.19 H410.00 V414.29 H409.00 Z M410.00 407.02 H411.00 V413.96 H410.00 Z M411.00 405.42 H412.00 V413.55 H411.00 Z M412.00 405.61 H413.00 V413.50 H412.00 Z M413.00 405.26 H414.00 V413.28 H413.00 Z M414.00 406.33 H415.00 V413.59 H414.00 Z M415.00 406.88 H416.00 V414.85 H415.00 Z M416.00 406.63 H417.00 V413.04 H416.00 Z M417.00 406.11 H418.00 V413.16 H417.00 Z M418.00 405.95 H419.00 V414.30 H418.00 Z M419.00 405.87 H420.00 V413.76 H419.00 Z M420.00 405.89 H421.00 V414.29 H420.00 Z M421.00 406.18 H422.00 V413.36 H421.00 Z M422.00 406.09 H423.00 V414.06 H422.00 Z M423.00 406.61 H424.00 V413.75 H423.00 Z M424.00 406.60 H425.00 V414.13 H424.00 Z M425.00 406.73 H426.00 V414.35 H425.00 Z M426.00 406.66 H427.00 V413.15 H426.00 Z M427.00 406.33 H428.00 V413.42 H427.00 Z M428.00 404.32 H429.00 V413.82 H428.00 Z M429.00 404.90 H430.00 V412.65 H429.00 Z M430.00 406.40 H431.00 V412.02 H430.00 Z M431.00 406.51 H432.00 V412.14 H431.00 Z M432.00 405.73 H433.00 V412.70 H432.00 Z M433.00 405.56 H434.00 V412.64 H433.00 Z M434.00 405.62 H435.00 V413.60 H434.00 Z M435.00 405.63 H436.00 V413.15 H435.00 Z M436.00 405.75 H437.00 V413.48 H436.00 Z M437.00 405.84 H438.00 V412.97 H437.00 Z M438.00 405.68 H439.00 V412.51 H438.00 Z M439.00 403.50 H440.00 V412.94 H439.00 Z M440.00 402.18 H441.00 V410.87 H440.00 Z M441.00 403.62 H442.00 V413.97 H441.00 Z M442.00 405.89 H443.00 V414.71 H442.00 Z M443.00 407.38 H444.00 V414.93 H443.00 Z M444.00 407.18 H445.00 V416.07 H444.00 Z M445.00 408.36 H446.00 V416.43 H445.00 Z M446.00 408.47 H447.00 V416.46 H446.00 Z M447.00 408.76 H448.00 V416.17 H447.00 Z M448.00 408.22 H449.00 V415.97 H448.00 Z M449.00 408.78 H450.00 V417.36 H449.00 Z M450.00 409.69 H451.00 V416.97 H450.00 Z M451.00 408.88 H452.00 V418.02 H451.00 Z M452.00 410.05 H453.00 V417.90 H452.00 Z M453.00 410.09 H454.00 V418.70 H453.00 Z M454.00 410.48 H455.00 V419.29 H454.00 Z M455.00 411.31 H456.00 V419.79 H455.00 Z M456.00 411.97 H457.00 V420.17 H456.00 Z M457.00 413.49 H458.00 V420.07 H457.00 Z M458.00 413.63 H459.00 V421.11 H458.00 Z M459.00 414.33 H460.00 V421.73 H459.00 Z M460.00 415.47 H461.00 V422.71 H460.00 Z M461.00 416.32 H462.00 V423.74 H461.00 Z M462.00 416.60 H463.00 V425.80 H462.00 Z M463.00 417.15 H464.00 V426.22 H463.00 Z M464.00 416.99 H465.00 V424.61 H464.00 Z M465.00 415.68 H466.00 V423.04 H465.00 Z M466.00 414.06 H467.00 V422.01 H466.00 Z M467.00 415.53 H468.00 V422.21 H467.00 Z M468.00 415.75 H469.00 V421.44 H468.00 Z M469.00 413.87 H470.00 V422.46 H469.00 Z M470.00 414.88 H471.00 V423.17 H470.00 Z M471.00 413.94 H472.00 V421.83 H471.00 Z M472.00 415.68 H473.00 V422.00 H472.00 Z M473.00 414.25 H474.00 V422.42 H473.00 Z M474.00 415.25 H475.00 V422.93 H474.00 Z M475.00 415.74 H476.00 V423.08 H475.00 Z M476.00 415.90 H477.00 V423.44 H476.00 Z M477.00 414.60 H478.00 V422.74 H477.00 Z M478.00 414.91 H479.00 V422.66 H478.00 Z M479.00 415.06 H480.00 V423.17 H479.00 Z M480.00 415.06 H481.00 V422.99 H480.00 Z M481.00 415.11 H482.00 V424.30 H481.00 Z M482.00 416.02 H483.00 V423.82 H482.00 Z M483.00 417.01 H484.00 V424.17 H483.00 Z M484.00 416.45 H485.00 V423.35 H484.00 Z M485.00 416.14 H486.00 V425.09 H485.00 Z M486.00 415.94 H487.00 V423.67 H486.00 Z M487.00 416.94 H488.00 V424.04 H487.00 Z M488.00 417.38 H489.00 V423.62 H488.00 Z M489.00 417.15 H490.00 V423.28 H489.00 Z M490.00 417.56 H491.00 V424.12 H490.00 Z M491.00 417.26 H492.00 V424.28 H491.00 Z M492.00 417.83 H493.00 V425.09 H492.00 Z M493.00 418.63 H494.00 V426.65 H493.00 Z M494.00 420.71 H495.00 V429.09 H494.00 Z M495.00 421.23 H496.00 V430.38 H495.00 Z M496.00 422.44 H497.00 V431.22 H496.00 Z M497.00 423.20 H498.00 V432.34 H497.00 Z M498.00 424.50 H499.00 V433.31 H498.00 Z M499.00 425.56 H500.00 V435.06 H499.00 Z M500.00 426.23 H501.00 V433.79 H500.00 Z M501.00 426.98 H502.00 V435.99 H501.00 Z M502.00 427.56 H503.00 V434.64 H502.00 Z M503.00 427.69 H504.00 V435.39 H503.00 Z M504.00 428.28 H505.00 V435.54 H504.00 Z M505.00 427.12 H506.00 V435.43 H505.00 Z M506.00 427.72 H507.00 V437.80 H506.00 Z M507.00 428.49 H508.00 V437.82 H507.00 Z M508.00 428.89 H509.00 V438.13 H508.00 Z M509.00 429.41 H510.00 V437.93 H509.00 Z M510.00 429.62 H511.00 V436.45 H510.00 Z M511.00 429.39 H512.00 V436.56 H511.00 Z M512.00 429.07 H513.00 V435.17 H512.00 Z M513.00 427.36 H514.00 V435.89 H513.00 Z M514.00 427.37 H515.00 V434.43 H514.00 Z M515.00 426.73 H516.00 V434.28 H515.00 Z M516.00 426.56 H517.00 V434.22 H516.00 Z M517.00 427.18 H518.00 V434.11 H517.00 Z M577.00 423.48 H578.00 V431.45 H577.00 Z M578.00 425.51 H579.00 V432.13 H578.00 Z M579.00 426.34 H580.00 V432.19 H579.00 Z M580.00 426.49 H581.00 V432.56 H580.00 Z M581.00 428.25 H582.00 V433.88 H581.00 Z M582.00 429.44 H583.00 V434.77 H582.00 Z M583.00 429.48 H584.00 V435.33 H583.00 Z M584.00 431.30 H585.00 V436.98 H584.00 Z M585.00 432.45 H586.00 V437.48 H585.00 Z M586.00 432.22 H587.00 V437.35 H586.00 Z M587.00 431.33 H588.00 V437.14 H587.00 Z M588.00 431.21 H589.00 V435.86 H588.00 Z M589.00 430.03 H590.00 V435.10 H589.00 Z M590.00 430.15 H591.00 V434.79 H590.00 Z M591.00 429.41 H592.00 V435.87 H591.00 Z M592.00 428.68 H593.00 V435.40 H592.00 Z M593.00 428.77 H594.00 V436.43 H593.00 Z M594.00 429.20 H595.00 V435.62 H594.00 Z M595.00 428.77 H596.00 V434.62 H595.00 Z M596.00 428.87 H597.00 V433.75 H596.00 Z M597.00 429.05 H598.00 V434.66 H597.00 Z M598.00 429.74 H599.00 V436.01 H598.00 Z M599.00 430.87 H600.00 V436.85 H599.00 Z M600.00 432.32 H601.00 V438.47 H600.00 Z M601.00 434.16 H602.00 V440.31 H601.00 Z M602.00 435.36 H603.00 V441.01 H602.00 Z M603.00 434.79 H604.00 V441.42 H603.00 Z M604.00 436.36 H605.00 V442.92 H604.00 Z M605.00 437.27 H606.00 V443.20 H605.00 Z M606.00 438.54 H607.00 V444.29 H606.00 Z M607.00 440.10 H608.00 V445.23 H607.00 Z M608.00 440.18 H609.00 V446.01 H608.00 Z M609.00 440.02 H610.00 V446.08 H609.00 Z M610.00 440.82 H611.00 V446.41 H610.00 Z M611.00 441.62 H612.00 V446.62 H611.00 Z M612.00 441.31 H613.00 V447.74 H612.00 Z M613.00 441.71 H614.00 V447.38 H613.00 Z M614.00 442.02 H615.00 V447.84 H614.00 Z M615.00 442.50 H616.00 V448.58 H615.00 Z M616.00 444.00 H617.00 V448.44 H616.00 Z M617.00 443.39 H618.00 V449.24 H617.00 Z M618.00 443.47 H619.00 V448.87 H618.00 Z M619.00 443.95 H620.00 V449.27 H619.00 Z M620.00 444.36 H621.00 V449.54 H620.00 Z M621.00 444.23 H622.00 V449.72 H621.00 Z M622.00 445.03 H623.00 V450.04 H622.00 Z M623.00 444.92 H624.00 V449.79 H623.00 Z M624.00 444.93 H625.00 V449.12 H624.00 Z M625.00 443.96 H626.00 V448.95 H625.00 Z M626.00 444.10 H627.00 V449.51 H626.00 Z M627.00 444.12 H628.00 V449.63 H627.00 Z M628.00 444.53 H629.00 V449.55 H628.00 Z M629.00 444.69 H630.00 V450.34 H629.00 Z M630.00 444.36 H631.00 V449.85 H630.00 Z M631.00 445.12 H632.00 V450.79 H631.00 Z M632.00 445.60 H633.00 V449.93 H632.00 Z M633.00 445.97 H634.00 V450.20 H633.00 Z M634.00 446.10 H635.00 V450.15 H634.00 Z M635.00 446.17 H636.00 V450.37 H635.00 Z M636.00 445.67 H637.00 V451.21 H636.00 Z M637.00 445.45 H638.00 V451.54 H637.00 Z M638.00 445.54 H639.00 V451.78 H638.00 Z M639.00 445.64 H640.00 V451.10 H639.00 Z M640.00 446.35 H641.00 V452.35 H640.00 Z M641.00 446.36 H642.00 V452.79 H641.00 Z M642.00 446.99 H643.00 V452.55 H642.00 Z M643.00 447.44 H644.00 V452.79 H643.00 Z M644.00 447.24 H645.00 V453.44 H644.00 Z M645.00 448.16 H646.00 V453.12 H645.00 Z M646.00 448.12 H647.00 V453.08 H646.00 Z M647.00 448.10 H648.00 V454.35 H647.00 Z M648.00 448.55 H649.00 V455.13 H648.00 Z M649.00 449.28 H650.00 V455.67 H649.00 Z M650.00 449.12 H651.00 V455.59 H650.00 Z M651.00 450.18 H652.00 V455.65 H651.00 Z M652.00 450.05 H653.00 V457.03 H652.00 Z M653.00 451.04 H654.00 V456.95 H653.00 Z M654.00 450.88 H655.00 V457.11 H654.00 Z M655.00 451.08 H656.00 V457.26 H655.00 Z M656.00 452.52 H657.00 V457.55 H656.00 Z M657.00 452.79 H658.00 V457.65 H657.00 Z M658.00 452.75 H659.00 V459.14 H658.00 Z M659.00 453.90 H660.00 V458.94 H659.00 Z M660.00 454.50 H661.00 V458.99 H660.00 Z M661.00 454.71 H662.00 V460.71 H661.00 Z M662.00 454.14 H663.00 V460.27 H662.00 Z M663.00 453.95 H664.00 V459.97 H663.00 Z M664.00 454.40 H665.00 V459.89 H664.00 Z M665.00 454.53 H666.00 V460.50 H665.00 Z M666.00 455.16 H667.00 V459.61 H666.00 Z M667.00 455.43 H668.00 V459.41 H667.00 Z M668.00 454.51 H669.00 V460.47 H668.00 Z M669.00 455.26 H670.00 V461.10 H669.00 Z M670.00 455.99 H671.00 V460.84 H670.00 Z M671.00 456.48 H672.00 V462.64 H671.00 Z M672.00 456.68 H673.00 V463.19 H672.00 Z M673.00 457.55 H674.00 V462.50 H673.00 Z M674.00 458.10 H675.00 V463.80 H674.00 Z M675.00 458.25 H676.00 V464.65 H675.00 Z M676.00 459.14 H677.00 V464.51 H676.00 Z M677.00 459.69 H678.00 V465.38 H677.00 Z M678.00 460.21 H679.00 V464.86 H678.00 Z M679.00 459.54 H680.00 V465.05 H679.00 Z M680.00 460.12 H681.00 V465.87 H680.00 Z M681.00 460.10 H682.00 V465.82 H681.00 Z M682.00 460.14 H683.00 V465.85 H682.00 Z M683.00 460.82 H684.00 V466.67 H683.00 Z M684.00 461.82 H685.00 V466.76 H684.00 Z M685.00 462.26 H686.00 V466.86 H685.00 Z M686.00 461.53 H687.00 V467.40 H686.00 Z M687.00 462.98 H688.00 V468.65 H687.00 Z M688.00 464.14 H689.00 V470.32 H688.00 Z M689.00 465.20 H690.00 V471.14 H689.00 Z M690.00 466.39 H691.00 V471.95 H690.00 Z M691.00 466.58 H692.00 V472.73 H691.00 Z M692.00 467.46 H693.00 V473.79 H692.00 Z M693.00 469.03 H694.00 V476.37 H693.00 Z M694.00 471.34 H695.00 V479.09 H694.00 Z M695.00 473.78 H696.00 V480.38 H695.00 Z M696.00 475.84 H697.00 V483.38 H696.00 Z M697.00 477.42 H698.00 V485.68 H697.00 Z M698.00 479.72 H699.00 V487.26 H698.00 Z M699.00 481.83 H700.00 V488.70 H699.00 Z M700.00 483.66 H701.00 V490.26 H700.00 Z M701.00 484.91 H702.00 V492.66 H701.00 Z M702.00 487.61 H703.00 V494.65 H702.00 Z M703.00 489.05 H704.00 V495.71 H703.00 Z M704.00 490.60 H705.00 V497.20 H704.00 Z M705.00 492.62 H706.00 V498.07 H705.00 Z M706.00 494.07 H707.00 V499.25 H706.00 Z M707.00 495.69 H708.00 V500.74 H707.00 Z M708.00 496.83 H709.00 V503.83 H708.00 Z M709.00 497.79 H710.00 V504.51 H709.00 Z M710.00 499.35 H711.00 V505.65 H710.00 Z M711.00 499.68 H712.00 V506.12 H711.00 Z M712.00 500.51 H713.00 V505.87 H712.00 Z M713.00 501.19 H714.00 V507.46 H713.00 Z M714.00 502.52 H715.00 V508.14 H714.00 Z M715.00 502.76 H716.00 V509.10 H715.00 Z M716.00 503.62 H717.00 V508.34 H716.00 Z M717.00 504.11 H718.00 V508.69 H717.00 Z M718.00 503.88 H718.30 V508.59 H718.00 Z"/>
<path fill="none" stroke="#000" stroke-width="2.5" stroke-linejoin="round" d="M517.50 427.13 L519.94 432.32 L521.74 425.20 L523.38 431.81 L525.21 423.92 L527.26 430.32 L528.93 421.35 L531.03 425.04 L533.29 417.14 L534.91 422.97 L536.77 417.66 L538.33 422.32 L540.03 415.98 L541.97 421.71 L543.80 417.16 L545.66 423.02 L547.23 419.55 L549.72 426.69 L551.31 420.54 L553.79 429.67 L555.40 425.13 L557.33 431.90 L559.38 428.46 L561.79 433.96 L563.92 426.37 L566.08 432.37 L567.82 426.45 L569.35 431.31 L571.69 423.87 L573.37 429.32 L575.72 422.84 L577.39 431.44"/>
<path fill="none" stroke="#000" stroke-width="3.6" stroke-linejoin="round" d="M517.50 430.05 L518.00 429.96 L518.50 429.87 L519.00 429.78 L519.50 429.69 L520.00 429.60 L520.50 429.47 L521.00 429.33 L521.50 429.20 L522.00 429.07 L522.50 428.93 L523.00 428.80 L523.50 428.55 L524.00 428.30 L524.50 428.05 L525.00 427.80 L525.50 427.55 L526.00 427.30 L526.50 427.05 L527.00 426.80 L527.50 426.55 L528.00 425.98 L528.50 425.34 L529.00 424.69 L529.50 424.05 L530.00 423.41 L530.50 422.76 L531.00 422.12 L531.50 421.57 L532.00 421.39 L532.50 421.22 L533.00 421.05 L533.50 420.88 L534.00 420.71 L534.50 420.54 L535.00 420.37 L535.50 420.25 L536.00 420.17 L536.50 420.08 L537.00 420.00 L537.50 419.92 L538.00 419.83 L538.50 419.75 L539.00 419.67 L539.50 419.58 L540.00 419.50 L540.50 419.42 L541.00 419.33 L541.50 419.40 L542.00 419.56 L542.50 419.72 L543.00 419.88 L543.50 420.04 L544.00 420.20 L544.50 420.36 L545.00 420.52 L545.50 420.68 L546.00 420.84 L546.50 421.00 L547.00 421.32 L547.50 421.64 L548.00 421.96 L548.50 422.28 L549.00 422.60 L549.50 422.92 L550.00 423.25 L550.50 423.57 L551.00 423.89 L551.50 424.21 L552.00 424.61 L552.50 425.13 L553.00 425.65 L553.50 426.17 L554.00 426.70 L554.50 427.22 L555.00 427.74 L555.50 428.26 L556.00 428.78 L556.50 429.24 L557.00 429.44 L557.50 429.63 L558.00 429.83 L558.50 430.03 L559.00 430.23 L559.50 430.42 L560.00 430.62 L560.50 430.68 L561.00 430.64 L561.50 430.60 L562.00 430.56 L562.50 430.53 L563.00 430.49 L563.50 430.45 L564.00 430.41 L564.50 430.38 L565.00 430.34 L565.50 430.30 L566.00 429.95 L566.50 429.60 L567.00 429.25 L567.50 428.89 L568.00 428.54 L568.50 428.19 L569.00 427.84 L569.50 427.55 L570.00 427.30 L570.50 427.05 L571.00 426.80 L571.50 426.55 L572.00 426.30 L572.50 426.05 L573.00 425.80 L573.50 426.00 L574.00 426.19 L574.50 426.39 L575.00 426.59 L575.50 426.79 L576.00 426.98 L576.50 427.18 L577.00 427.45 L577.50 427.81"/>
<g fill="none" stroke="#000" stroke-linejoin="round" stroke-linecap="butt">
<path stroke-width="2.5" stroke-linecap="round" d="M74.9 443.4 L75.5 439.3 L77.4 435.2 L78.4 431.5 L80.75 415.4 L82.9 399.7 L84.3 391.8 L84.9 388.2"/><path stroke-width="1.2" d="M74.6 441 L76.2 444.5 M75.2 438 L76.9 440.5"/>
<path stroke-width="1.60" d="M114.20 414.34 V396.50"/>
<path stroke-width="1.50" d="M195.00 414.70 V407.00"/>
<path stroke-width="1.90" d="M235.20 407.67 V394.20"/>
<path stroke-width="1.80" d="M275.00 416.43 V399.50"/>
<path stroke-width="2.00" d="M315.50 417.70 V337.70"/>
<path stroke-width="1.80" d="M396.10 416.99 V348.30"/>
<path stroke-width="1.80" d="M476.30 419.23 V363.50"/>
<path stroke-width="1.70" d="M516.70 430.20 V402.00"/>
<path stroke-width="1.80" d="M556.90 429.40 V340.90"/>
<path stroke-width="1.70" d="M597.05 431.76 V415.10"/>
<path stroke-width="1.80" d="M607.10 442.30 V389.40"/>
<path stroke-width="2.50" d="M625.35 446.81 V395.60"/>
<path stroke-width="1.70" d="M637.05 448.31 V410.60"/>
<path stroke-width="1.80" d="M677.70 462.23 V370.60"/>
<path stroke-width="2.4" d="M532.3 419 L533.9 396.8"/>
<path stroke-width="1.2" d="M624.2 447 V452.9"/>
<path stroke-width="1.2" d="M660.7 457 V464.4"/>
<path stroke-width="1.2" d="M715.0 505 V510.5"/>
</g>
</svg>
</body></html>
